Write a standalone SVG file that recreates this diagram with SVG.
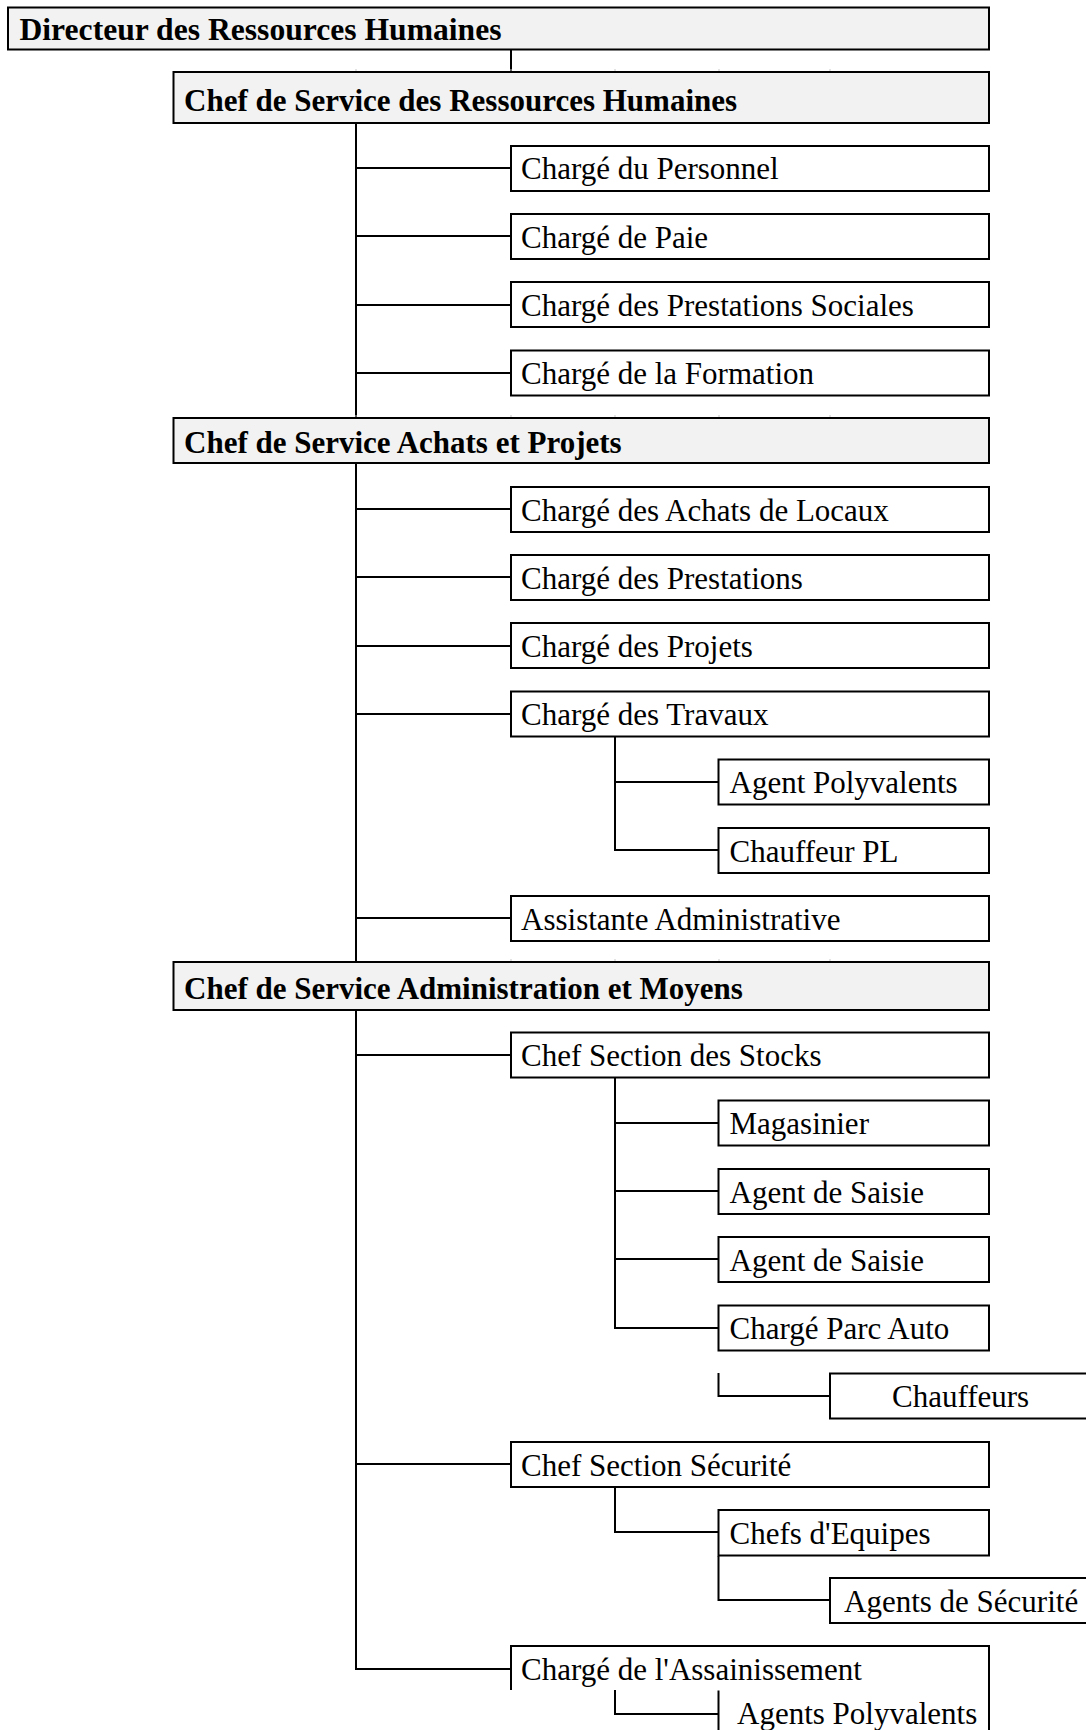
<svg xmlns="http://www.w3.org/2000/svg" width="1086" height="1730" viewBox="0 0 1086 1730">
  <style>
    .head { fill: #f2f2f2; stroke: #000; stroke-width: 2; }
    .box { fill: #fff; stroke: #000; stroke-width: 2; }
    .open { fill: none; stroke: #000; stroke-width: 2; }
    .link { fill: none; stroke: #000; stroke-width: 2; }
    .tick { stroke: #c8c8c8; stroke-width: 1; }
    .tb { font-family: "Liberation Serif", "Times New Roman", serif; font-size: 31px; font-weight: bold; fill: #000; }
    .t { font-family: "Liberation Serif", "Times New Roman", serif; font-size: 31px; fill: #000; }
  </style>
  <rect width="1086" height="1730" fill="#fff"/>

  <!-- connectors -->
  <g id="connectors">
    <path class="link" d="M511 49 V72"/>
    <!-- service RH trunk -->
    <path class="link" d="M356 123 V418 M356 168 H511 M356 236 H511 M356 305 H511 M356 373 H511"/>
    <!-- service achats trunk -->
    <path class="link" d="M356 463 V962 M356 509 H511 M356 577 H511 M356 646 H511 M356 714 H511 M356 918 H511"/>
    <path class="link" d="M615 737 V850 H718.5 M615 782 H718.5"/>
    <!-- service administration trunk -->
    <path class="link" d="M356 1010 V1669 H511 M356 1055 H511 M356 1464 H511"/>
    <path class="link" d="M615 1078 V1328 H718.5 M615 1123 H718.5 M615 1191 H718.5 M615 1259 H718.5"/>
    <path class="link" d="M718.5 1373 V1396 H830"/>
    <path class="link" d="M615 1487 V1532 H718.5"/>
    <path class="link" d="M718.5 1556 V1600 H830"/>
    <path class="link" d="M615 1690 V1714 H718.5"/>
  </g>

  <!-- faint column marks on the service headers -->
  <g id="grid-ticks">
    <path class="tick" d="M356 69 V73 M511 69 V73 M615 69 V73 M719 69 V73 M830 69 V73"/>
    <path class="tick" d="M356 415 V419 M511 415 V419 M615 415 V419 M719 415 V419 M830 415 V419"/>
    <path class="tick" d="M511 959 V963 M615 959 V963 M719 959 V963 M830 959 V963"/>
  </g>

  <g id="directeur-rh">
    <rect class="head" x="8" y="7.5" width="981" height="42"/>
    <text class="tb" x="19.5" y="40" textLength="482" lengthAdjust="spacingAndGlyphs">Directeur des Ressources Humaines</text>
  </g>

  <g id="chef-service-rh">
    <rect class="head" x="173.5" y="72" width="815.5" height="51"/>
    <text class="tb" x="184" y="111">Chef de Service des Ressources Humaines</text>
  </g>
  <g id="charge-personnel">
    <rect class="box" x="511" y="146" width="478" height="45"/>
    <text class="t" x="521" y="179">Chargé du Personnel</text>
  </g>
  <g id="charge-paie">
    <rect class="box" x="511" y="214" width="478" height="45"/>
    <text class="t" x="521" y="247.5">Chargé de Paie</text>
  </g>
  <g id="charge-prestations-sociales">
    <rect class="box" x="511" y="282" width="478" height="45"/>
    <text class="t" x="521" y="315.5">Chargé des Prestations Sociales</text>
  </g>
  <g id="charge-formation">
    <rect class="box" x="511" y="350.5" width="478" height="45"/>
    <text class="t" x="521" y="384">Chargé de la Formation</text>
  </g>

  <g id="chef-service-achats">
    <rect class="head" x="173.5" y="418" width="815.5" height="45"/>
    <text class="tb" x="184" y="452.5">Chef de Service Achats et Projets</text>
  </g>
  <g id="charge-achats-locaux">
    <rect class="box" x="511" y="487" width="478" height="45"/>
    <text class="t" x="521" y="520.5">Chargé des Achats de Locaux</text>
  </g>
  <g id="charge-prestations">
    <rect class="box" x="511" y="555" width="478" height="45"/>
    <text class="t" x="521" y="588.5">Chargé des Prestations</text>
  </g>
  <g id="charge-projets">
    <rect class="box" x="511" y="623" width="478" height="45"/>
    <text class="t" x="521" y="656.5">Chargé des Projets</text>
  </g>
  <g id="charge-travaux">
    <rect class="box" x="511" y="691.5" width="478" height="45"/>
    <text class="t" x="521" y="725">Chargé des Travaux</text>
  </g>
  <g id="agent-polyvalents">
    <rect class="box" x="718.5" y="759.5" width="270.5" height="45"/>
    <text class="t" x="729.5" y="793">Agent Polyvalents</text>
  </g>
  <g id="chauffeur-pl">
    <rect class="box" x="718.5" y="828" width="270.5" height="45"/>
    <text class="t" x="729.5" y="861.5">Chauffeur PL</text>
  </g>
  <g id="assistante-administrative">
    <rect class="box" x="511" y="896" width="478" height="45"/>
    <text class="t" x="521" y="929.5">Assistante Administrative</text>
  </g>

  <g id="chef-service-administration">
    <rect class="head" x="173.5" y="962" width="815.5" height="48"/>
    <text class="tb" x="184" y="999">Chef de Service Administration et Moyens</text>
  </g>
  <g id="chef-section-stocks">
    <rect class="box" x="511" y="1032.5" width="478" height="45"/>
    <text class="t" x="521" y="1066">Chef Section des Stocks</text>
  </g>
  <g id="magasinier">
    <rect class="box" x="718.5" y="1100.5" width="270.5" height="45"/>
    <text class="t" x="729.5" y="1134">Magasinier</text>
  </g>
  <g id="agent-saisie-1">
    <rect class="box" x="718.5" y="1169" width="270.5" height="45"/>
    <text class="t" x="729.5" y="1202.5">Agent de Saisie</text>
  </g>
  <g id="agent-saisie-2">
    <rect class="box" x="718.5" y="1237" width="270.5" height="45"/>
    <text class="t" x="729.5" y="1270.5">Agent de Saisie</text>
  </g>
  <g id="charge-parc-auto">
    <rect class="box" x="718.5" y="1305.5" width="270.5" height="45"/>
    <text class="t" x="729.5" y="1339">Chargé Parc Auto</text>
  </g>
  <g id="chauffeurs">
    <rect class="box" x="830" y="1373.5" width="270" height="45"/>
    <text class="t" x="892" y="1407">Chauffeurs</text>
  </g>
  <g id="chef-section-securite">
    <rect class="box" x="511" y="1442" width="478" height="45"/>
    <text class="t" x="521" y="1475.5">Chef Section Sécurité</text>
  </g>
  <g id="chefs-equipes">
    <rect class="box" x="718.5" y="1510" width="270.5" height="45.5"/>
    <text class="t" x="729.5" y="1543.5">Chefs d'Equipes</text>
  </g>
  <g id="agents-securite">
    <rect class="box" x="830" y="1578" width="270" height="45"/>
    <text class="t" x="844" y="1611.5">Agents de Sécurité</text>
  </g>
  <g id="charge-assainissement">
    <path class="open" d="M511 1690 V1646 H989 V1740"/>
    <text class="t" x="521" y="1679.5">Chargé de l'Assainissement</text>
  </g>
  <g id="agents-polyvalents">
    <path class="open" d="M718.5 1690.5 V1740"/>
    <text class="t" x="737" y="1724">Agents Polyvalents</text>
  </g>
</svg>
